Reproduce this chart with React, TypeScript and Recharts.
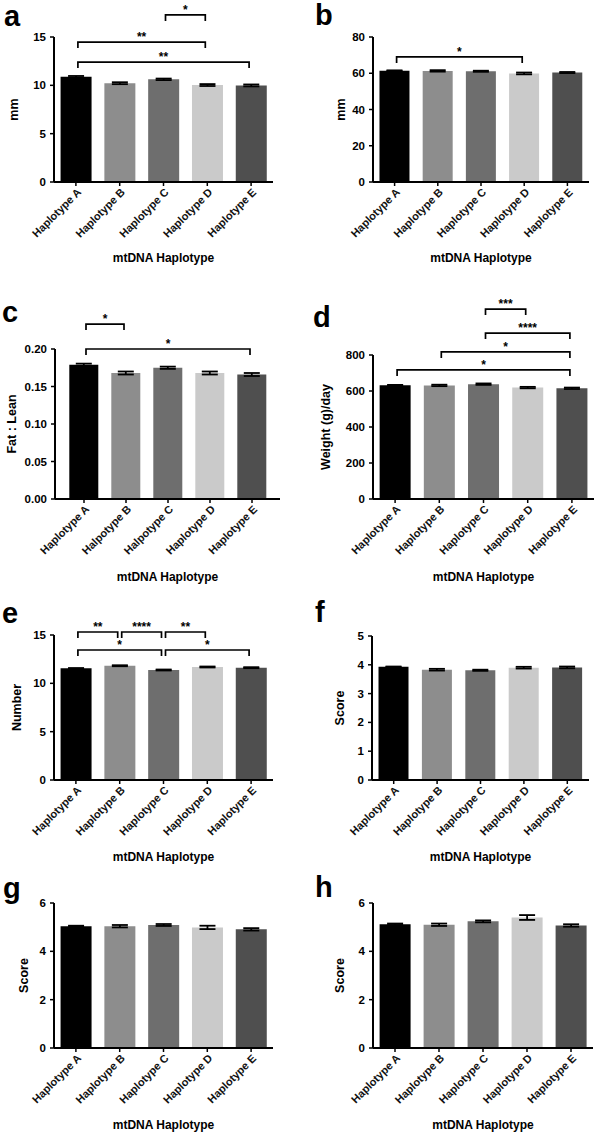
import React from 'react';
import { BarChart, Bar, Cell, XAxis, YAxis, ErrorBar, ReferenceLine } from 'recharts';

const haplotypes = ['Haplotype A', 'Haplotype B', 'Haplotype C', 'Haplotype D', 'Haplotype E'];
// panel c has the misspelled labels of the original figure
const haplotypesFatLean = ['Haplotype A', 'Halpotype B', 'Halpotype C', 'Haplotype D', 'Haplotype E'];
const barColors = ['#000000', '#8d8d8d', '#6e6e6e', '#cacaca', '#4f4f4f'];

const aMeans = [10.89, 10.22, 10.62, 10.03, 9.99];
const aErrors = [0.08, 0.1, 0.08, 0.1, 0.1];
const bMeans = [61.4, 61.3, 61.1, 59.9, 60.4];
const bErrors = [0.2, 0.4, 0.3, 0.5, 0.3];
const cMeans = [0.179, 0.168, 0.175, 0.168, 0.166];
const cErrors = [0.0015, 0.002, 0.0015, 0.002, 0.002];
const dMeans = [632, 631, 638, 619, 615];
const dErrors = [2, 4, 4, 4, 4];
const eMeans = [11.55, 11.82, 11.38, 11.69, 11.62];
const eErrors = [0.03, 0.05, 0.05, 0.05, 0.05];
const fMeans = [3.93, 3.83, 3.81, 3.9, 3.91];
const fErrors = [0.01, 0.03, 0.02, 0.03, 0.03];
const gMeans = [5.04, 5.04, 5.09, 4.99, 4.91];
const gErrors = [0.02, 0.05, 0.04, 0.07, 0.05];
const hMeans = [5.12, 5.1, 5.24, 5.4, 5.07];
const hErrors = [0.03, 0.05, 0.04, 0.1, 0.05];

const aTicks = [0, 5, 10, 15];
const bTicks = [0, 20, 40, 60, 80];
const cTicks = [0, 0.05, 0.1, 0.15, 0.2];
const dTicks = [0, 200, 400, 600, 800];
const eTicks = [0, 5, 10, 15];
const fTicks = [0, 1, 2, 3, 4, 5];
const scoreTicks = [0, 2, 4, 6];

type Bracket = { from: number; to: number; y: number; label: string };

const aBrackets: Bracket[] = [
    { from: 2, to: 3, y: 17.28, label: '*' },
    { from: 0, to: 3, y: 14.48, label: '**' },
    { from: 0, to: 4, y: 12.41, label: '**' },
];
const bBrackets: Bracket[] = [{ from: 0, to: 3, y: 69, label: '*' }];
const cBrackets: Bracket[] = [
    { from: 0, to: 1, y: 0.2333, label: '*' },
    { from: 0, to: 4, y: 0.2, label: '*' },
];
const dBrackets: Bracket[] = [
    { from: 2, to: 3, y: 1055, label: '***' },
    { from: 2, to: 4, y: 922, label: '****' },
    { from: 1, to: 4, y: 817, label: '*' },
    { from: 0, to: 4, y: 717, label: '*' },
];
const eBrackets: Bracket[] = [
    { from: 0, to: 1, y: 15.31, label: '**' },
    { from: 1, to: 2, y: 15.31, label: '****' },
    { from: 2, to: 3, y: 15.31, label: '**' },
    { from: 0, to: 2, y: 13.45, label: '*' },
    { from: 2, to: 4, y: 13.45, label: '*' },
];

const FONT = '"Liberation Sans", Arial, Helvetica, sans-serif';

type PanelSpec = {
    letter: string;
    letterX: number;
    letterY: number;
    left: number;
    top: number;
    width: number;
    height: number;
    plotLeft: number;
    plotTop: number;
    plotRight: number;
    plotBottom: number;
    titleGap: number;
    categories: string[];
    means: number[];
    errors: number[];
    ticks: number[];
    digits: number;
    yLabel: string;
    yLabelX: number;
    brackets: Bracket[];
    padLeft?: number;
    padRight?: number;
};

const HaplotypeTick = (props: any) => {
    const { x, y, payload } = props;
    return (
        <g transform={`translate(${x + 1},${y})`}>
            <text
                x={0}
                y={0}
                dy={7}
                textAnchor="end"
                transform="rotate(-45)"
                fontSize={11}
                fontWeight="bold"
                fill="#111"
                fontFamily={FONT}
            >
                {payload.value}
            </text>
        </g>
    );
};

const bracketShape = (props: any) => {
    const { x1, y1, x2 } = props;
    const inset = 2;
    const leg = 6;
    return (
        <path
            d={`M${x1 + inset},${y1 + leg} V${y1} H${x2 - inset} V${y1 + leg}`}
            stroke="#000"
            strokeWidth={1.7}
            fill="none"
        />
    );
};

const Panel: React.FC<{ spec: PanelSpec }> = ({ spec }) => {
    const data = spec.categories.map((name, i) => ({
        name,
        value: spec.means[i],
        err: spec.errors[i],
    }));
    const xAxisHeight = spec.top + spec.height - spec.plotBottom;
    const yMax = spec.ticks[spec.ticks.length - 1];

    return (
        <div style={{ position: 'absolute', left: spec.left, top: spec.top }}>
            <BarChart
                width={spec.width}
                height={spec.height}
                data={data}
                barCategoryGap="15%"
                margin={{
                    top: spec.plotTop - spec.top,
                    right: spec.left + spec.width - spec.plotRight,
                    bottom: 0,
                    left: 0,
                }}
            >
                <XAxis
                    dataKey="name"
                    interval={0}
                    height={xAxisHeight}
                    padding={{ left: spec.padLeft ?? 0, right: spec.padRight ?? 0 }}
                    axisLine={{ stroke: '#000', strokeWidth: 2 }}
                    tickLine={{ stroke: '#000', strokeWidth: 1.5 }}
                    tickSize={4}
                    tick={<HaplotypeTick />}
                    label={{
                        value: 'mtDNA Haplotype',
                        position: 'insideBottom',
                        offset: xAxisHeight - spec.titleGap,
                        fill: '#000',
                        fontSize: 12,
                        fontWeight: 'bold',
                        fontFamily: FONT,
                    }}
                />
                <YAxis
                    width={spec.plotLeft - spec.left}
                    domain={[0, yMax]}
                    ticks={spec.ticks}
                    interval={0}
                    allowDataOverflow
                    tickFormatter={(v: number) => v.toFixed(spec.digits)}
                    axisLine={{ stroke: '#000', strokeWidth: 2 }}
                    tickLine={{ stroke: '#000', strokeWidth: 1.5 }}
                    tickSize={4}
                    tickMargin={4}
                    tick={{ fill: '#000', fontSize: 11.5, fontWeight: 'bold', fontFamily: FONT }}
                    label={{
                        value: spec.yLabel,
                        angle: -90,
                        position: 'insideLeft',
                        offset: spec.yLabelX,
                        fill: '#000',
                        fontSize: 12.5,
                        fontWeight: 'bold',
                        fontFamily: FONT,
                        style: { textAnchor: 'middle' },
                    }}
                />
                <Bar dataKey="value" isAnimationActive={false}>
                    {data.map((d, i) => (
                        <Cell key={d.name} fill={barColors[i]} />
                    ))}
                    <ErrorBar dataKey="err" width={8} stroke="#000" strokeWidth={1.8} />
                </Bar>
                {spec.brackets.map((b, i) => (
                    <ReferenceLine
                        key={i}
                        ifOverflow="visible"
                        position="middle"
                        segment={[
                            { x: spec.categories[b.from], y: b.y },
                            { x: spec.categories[b.to], y: b.y },
                        ]}
                        stroke="#000"
                        shape={bracketShape}
                        label={{
                            value: b.label,
                            position: 'top',
                            offset: 1,
                            fill: '#000',
                            fontSize: 12,
                            fontWeight: 'bold',
                            fontFamily: FONT,
                        }}
                    />
                ))}
            </BarChart>
        </div>
    );
};

const panels: PanelSpec[] = [
    {
        letter: 'a', letterX: 4, letterY: 26,
        left: 0, top: 0, width: 296, height: 267,
        plotLeft: 54, plotTop: 37, plotRight: 273, plotBottom: 182, titleGap: 80,
        categories: haplotypes, means: aMeans, errors: aErrors, ticks: aTicks, digits: 0,
        yLabel: 'mm', yLabelX: 14, brackets: aBrackets,
    },
    {
        letter: 'b', letterX: 315, letterY: 25,
        left: 296, top: 0, width: 300, height: 267,
        plotLeft: 373, plotTop: 37, plotRight: 589, plotBottom: 182, titleGap: 80,
        categories: haplotypes, means: bMeans, errors: bErrors, ticks: bTicks, digits: 0,
        yLabel: 'mm', yLabelX: 45, brackets: bBrackets,
    },
    {
        letter: 'c', letterX: 2, letterY: 322,
        left: 0, top: 270, width: 296, height: 314,
        plotLeft: 55, plotTop: 349, plotRight: 280, plotBottom: 499, titleGap: 82,
        categories: haplotypesFatLean, means: cMeans, errors: cErrors, ticks: cTicks, digits: 2,
        yLabel: 'Fat : Lean', yLabelX: 12, brackets: cBrackets, padLeft: 8, padRight: 7,
    },
    {
        letter: 'd', letterX: 313, letterY: 327,
        left: 296, top: 270, width: 300, height: 314,
        plotLeft: 373, plotTop: 355, plotRight: 594, plotBottom: 499, titleGap: 82,
        categories: haplotypes, means: dMeans, errors: dErrors, ticks: dTicks, digits: 0,
        yLabel: 'Weight (g)/day', yLabelX: 30, brackets: dBrackets,
    },
    {
        letter: 'e', letterX: 2, letterY: 623,
        left: 0, top: 590, width: 296, height: 275,
        plotLeft: 54, plotTop: 635, plotRight: 273, plotBottom: 780, titleGap: 81,
        categories: haplotypes, means: eMeans, errors: eErrors, ticks: eTicks, digits: 0,
        yLabel: 'Number', yLabelX: 17, brackets: eBrackets,
    },
    {
        letter: 'f', letterX: 315, letterY: 622,
        left: 296, top: 590, width: 300, height: 275,
        plotLeft: 372, plotTop: 636, plotRight: 589, plotBottom: 780, titleGap: 81,
        categories: haplotypes, means: fMeans, errors: fErrors, ticks: fTicks, digits: 0,
        yLabel: 'Score', yLabelX: 43.5, brackets: [],
    },
    {
        letter: 'g', letterX: 3, letterY: 898,
        left: 0, top: 865, width: 296, height: 268,
        plotLeft: 54, plotTop: 903, plotRight: 273, plotBottom: 1048, titleGap: 81,
        categories: haplotypes, means: gMeans, errors: gErrors, ticks: scoreTicks, digits: 0,
        yLabel: 'Score', yLabelX: 24, brackets: [],
    },
    {
        letter: 'h', letterX: 315, letterY: 897,
        left: 296, top: 865, width: 300, height: 268,
        plotLeft: 373, plotTop: 903, plotRight: 593, plotBottom: 1048, titleGap: 81,
        categories: haplotypes, means: hMeans, errors: hErrors, ticks: scoreTicks, digits: 0,
        yLabel: 'Score', yLabelX: 43.5, brackets: [],
    },
];

export default function App() {
    return (
        <div
            style={{
                position: 'absolute',
                left: 0,
                top: 0,
                width: 596,
                height: 1133,
                background: '#fff',
                fontFamily: FONT,
            }}
        >
            {panels.map((p) => (
                <Panel key={p.letter} spec={p} />
            ))}
            <svg
                width={596}
                height={1133}
                style={{ position: 'absolute', left: 0, top: 0, pointerEvents: 'none' }}
            >
                {panels.map((p) => (
                    <text
                        key={p.letter}
                        x={p.letterX}
                        y={p.letterY}
                        fontSize={29}
                        fontWeight="bold"
                        fill="#000"
                        fontFamily={FONT}
                    >
                        {p.letter}
                    </text>
                ))}
            </svg>
        </div>
    );
}
